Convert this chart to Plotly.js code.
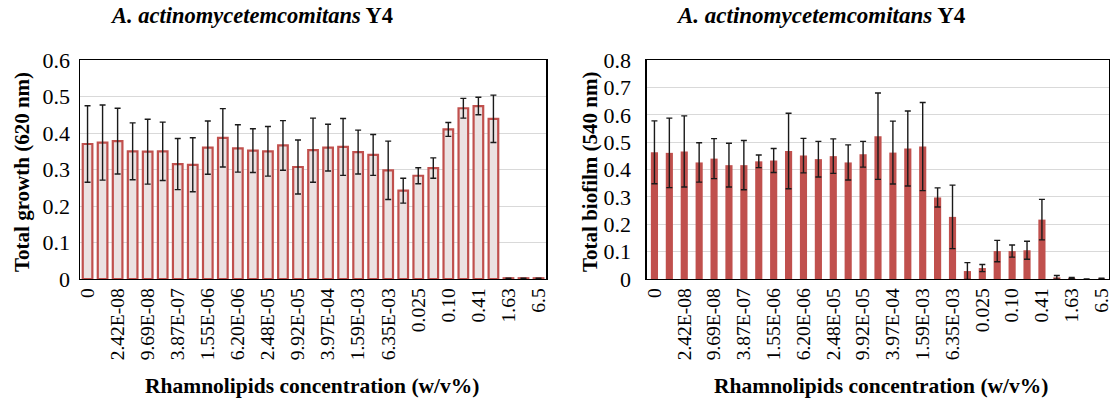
<!DOCTYPE html>
<html>
<head>
<meta charset="utf-8">
<script src="https://cdn.plot.ly/plotly-3.0.1.min.js"></script>
<style>html,body{margin:0;padding:0;background:#fff;}#chart{width:1113px;height:398px;}</style>
</head>
<body>
<div id="chart"></div>
<script>
const categories = ["0","1.21E-08","2.42E-08","4.84E-08","9.69E-08","1.94E-07","3.87E-07","7.75E-07",
  "1.55E-06","3.10E-06","6.20E-06","1.24E-05","2.48E-05","4.96E-05","9.92E-05","1.98E-04",
  "3.97E-04","7.94E-04","1.59E-03","3.17E-03","6.35E-03","0.013","0.025","0.051","0.10",
  "0.20","0.41","0.81","1.63","3.25","6.5"];
const tickLabels = ["0","2.42E-08","9.69E-08","3.87E-07","1.55E-06","6.20E-06","2.48E-05","9.92E-05",
  "3.97E-04","1.59E-03","6.35E-03","0.025","0.10","0.41","1.63","6.5"];

const growth = [0.370,0.374,0.378,0.350,0.349,0.350,0.315,0.313,0.360,0.387,0.358,0.352,0.350,0.366,
  0.307,0.353,0.360,0.362,0.348,0.340,0.298,0.242,0.283,0.304,0.410,0.468,0.474,0.439,0.002,0.002,0.002];
const growthErr = [0.105,0.103,0.090,0.078,0.089,0.080,0.070,0.074,0.073,0.080,0.065,0.060,0.068,0.068,
  0.074,0.088,0.064,0.078,0.060,0.056,0.080,0.034,0.022,0.028,0.019,0.027,0.024,0.065,0,0,0];

const biofilm = [0.463,0.461,0.466,0.426,0.440,0.416,0.416,0.430,0.433,0.468,0.451,0.438,0.449,0.426,
  0.456,0.522,0.462,0.477,0.484,0.298,0.227,0.029,0.040,0.102,0.102,0.105,0.217,0.006,0.004,0.000,0.002];
const biofilmErr = [0.115,0.127,0.130,0.072,0.073,0.080,0.090,0.023,0.044,0.138,0.063,0.065,0.063,0.064,
  0.047,0.158,0.115,0.137,0.161,0.035,0.116,0.031,0.013,0.039,0.022,0.033,0.074,0.007,0.002,0,0.001];

const serif = "Liberation Serif";
const red = "#c0504d";

const traces = [
  {type:"bar", x:categories, y:growth, xaxis:"x", yaxis:"y", width:0.64,
   marker:{color:"#ebe2e2", line:{color:red, width:2.2}},
   error_y:{type:"data", array:growthErr, visible:true, color:"#1a1a1a", thickness:1.4, width:3},
   hoverinfo:"x+y"},
  {type:"bar", x:categories, y:biofilm, xaxis:"x2", yaxis:"y2", width:0.48,
   marker:{color:red, line:{width:0}},
   error_y:{type:"data", array:biofilmErr, visible:true, color:"#1a1a1a", thickness:1.4, width:3},
   hoverinfo:"x+y"}
];

const xCommon = {type:"category", tickmode:"array", tickvals:tickLabels, ticktext:tickLabels,
  tickangle:-90, tickfont:{family:serif, size:19.5, color:"#000"}, showgrid:false, zeroline:false,
  showline:true, linecolor:"#000", linewidth:1.5, mirror:true, ticks:"", fixedrange:true};
const yCommon = {showgrid:true, gridcolor:"#d9d9d9", gridwidth:1, zeroline:false,
  showline:true, linecolor:"#000", linewidth:1.5, mirror:true, ticks:"", dtick:0.1,
  tickfont:{family:serif, size:22, color:"#000"}, fixedrange:true};

const yDom = [0.299, 0.849];
function ann(text, x, y, size, angle) {
  return {text:text, x:x/1113, y:1-y/398, xref:"paper", yref:"paper", xanchor:"center", yanchor:"middle",
    showarrow:false, textangle:angle||0, font:{family:serif, size:size, color:"#000"}};
}
const layout = {
  width:1113, height:398, margin:{l:0,r:0,t:0,b:0},
  font:{family:serif, color:"#000"},
  paper_bgcolor:"#fff", plot_bgcolor:"#fff", showlegend:false,
  xaxis:Object.assign({}, xCommon, {domain:[0.0719,0.4906], anchor:"y"}),
  yaxis:Object.assign({}, yCommon, {domain:yDom, range:[0,0.6], anchor:"x", ticklabelstandoff:4}),
  xaxis2:Object.assign({}, xCommon, {domain:[0.5813,0.9964], anchor:"y2"}),
  yaxis2:Object.assign({}, yCommon, {domain:yDom, range:[0,0.8], anchor:"x2", ticklabelstandoff:10}),
  annotations:[
    ann("<b><i>A. actinomycetemcomitans</i> Y4</b>", 251, 16, 22.5),
    ann("<b><i>A. actinomycetemcomitans</i> Y4</b>", 821, 16, 23),
    ann("<b>Rhamnolipids concentration (w/v%)</b>", 312, 386, 21.5),
    ann("<b>Rhamnolipids concentration (w/v%)</b>", 881, 386, 21.5),
    ann("<b>Total growth (620 nm)</b>", 22, 172, 21, -90),
    ann("<b>Total biofilm (540 nm)</b>", 590, 172, 21, -90)
  ]
};

Plotly.newPlot("chart", traces, layout, {displayModeBar:false, staticPlot:true});
</script>
</body>
</html>
